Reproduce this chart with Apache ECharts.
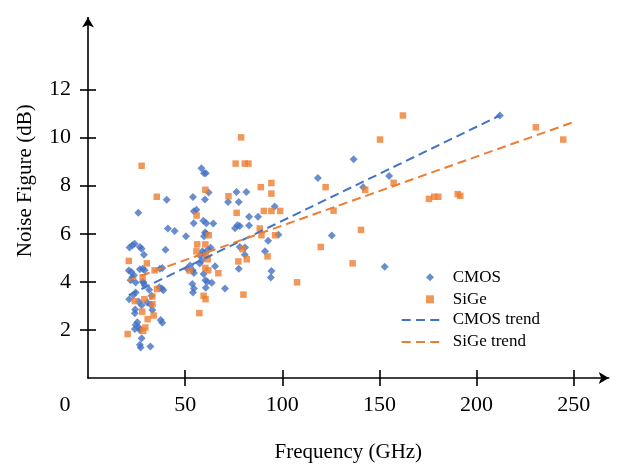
<!DOCTYPE html>
<html>
<head>
<meta charset="utf-8">
<script src="https://cdn.jsdelivr.net/npm/echarts@6/dist/echarts.min.js"></script>
<style>
html,body{margin:0;padding:0;background:#fff;}
#chart{width:622px;height:468px;}
</style>
</head>
<body>
<div id="chart"></div>
<script>
// Data: [frequency GHz, noise figure dB]
const cmosPoints = [
  [40.5,7.42],[54,7.53],[25.9,6.87],[54.5,6.94],[55.8,7.0],[54.4,6.44],[41.1,6.22],[44.6,6.12],
  [50.4,5.9],[39.9,5.34],[24,5.59],[22.8,5.52],[21.4,5.43],[26.7,5.45],[27.6,5.38],[28.8,5.13],
  [21,4.47],[22.3,4.41],[26.7,4.52],[28.2,4.55],[29.1,4.48],[37,4.54],[38.2,4.58],[23.6,4.27],
  [22.8,4.19],[28.6,3.96],[29.1,3.86],[31.5,3.67],[36.7,3.78],[38,3.72],[38.8,3.65],[24.5,3.56],
  [23.3,3.45],[32.7,3.42],[21.2,3.28],[30.5,3.14],[24.3,2.85],[24.1,2.69],[27.6,3.03],[33.1,2.83],
  [37.4,2.41],[38.2,2.3],[24.5,2.21],[25.4,2.32],[26.7,2.0],[24.1,2.04],[27.6,1.65],[26.7,1.38],
  [27.1,1.27],[32.1,1.31],[53.7,3.91],[54.5,3.72],[54,3.56],[21.9,4.07],[24.5,3.97],[28.2,4.0],
  [26.2,3.17],[32.2,3.06],[26.2,2.1],
  [58.4,8.73],[59.7,8.52],[60.6,8.52],[118.3,8.32],[60.2,7.43],[62.1,7.72],[76.4,7.74],[81.5,7.74],
  [72.1,7.32],[77.6,7.32],[96.1,7.14],[59.4,6.54],[60.9,6.44],[64.5,6.43],[82.9,6.71],[87.5,6.71],
  [76.9,6.35],[78.1,6.32],[75.7,6.23],[82.9,6.34],[60.2,6.05],[60.9,6.01],[59.7,5.9],[98,5.96],
  [92.7,5.71],[63.1,5.42],[61.8,5.35],[58.9,5.27],[57.6,5.1],[78.1,5.45],[80.8,5.43],[80.7,5.13],
  [91.1,5.27],[59.7,5.18],[58.5,4.89],[57.5,4.76],[52.5,4.68],[51.1,4.55],[53.9,4.48],[54.5,4.37],
  [65.4,4.65],[77.6,4.55],[94.4,4.45],[94.1,4.18],[59.5,4.33],[60.4,4.07],[61.4,4.0],[63.7,3.96],
  [60.6,3.75],[70.5,3.72],
  [212,10.92],[136.7,9.1],[155,8.4],[141.6,7.94],[125.5,5.93],[152.7,4.63]
];
const sigePoints = [
  [35.4,7.54],[21,4.87],[30.3,4.77],[34.3,4.48],[28.1,4.19],[35.5,3.7],[33.1,3.39],[29,3.28],
  [24.1,3.2],[33.2,3.07],[27.9,2.76],[33.8,2.6],[30.7,2.45],[29.5,2.1],[28.4,1.96],[20.4,1.83],
  [52.3,4.47],[56.2,5.56],[55.8,5.27],[57.3,2.7],[55.9,6.76],[27.6,8.83],
  [78.8,10.01],[76,8.92],[80.7,8.92],[82.6,8.92],[60.4,7.83],[88.9,7.94],[94.4,8.11],[94.4,7.67],
  [72.3,7.56],[76.5,6.87],[90.5,6.95],[94.4,6.95],[98.9,6.95],[88.4,6.22],[89.3,5.94],[96.3,5.94],
  [62.1,5.94],[60.4,5.56],[60.7,5.1],[79.6,5.36],[92.4,5.06],[61.6,4.94],[77.4,4.85],[81.7,4.94],
  [119.8,5.45],[60.4,4.58],[61.9,4.48],[67.1,4.36],[107.6,3.98],[80,3.47],[59.5,3.42],[60.5,3.28],
  [162.1,10.92],[150.3,9.92],[230.5,10.43],[244.6,9.92],[122.3,7.94],[142.7,7.83],[157.3,8.12],
  [126.4,6.96],[175.5,7.45],[178.2,7.54],[180.3,7.54],[190.3,7.65],[191.6,7.58],[140.5,6.16],
  [136.2,4.77]
];
const cmosTrend = [[21,3.45],[212,10.92]];
const sigeTrend = [[20.5,4.06],[249,10.62]];
const xTickValues = [50,100,150,200,250];
const xLabelValues = [0,50,100,150,200,250];
const yTickValues = [2,4,6,8,10,12];

const FONT = 'Liberation Serif';
const BLUE = '#4472C4';
const ORANGE = '#ED7D31';
const axisLineStyle = {color:'#000', width:1.6};
const dashIcon = 'path://M0,0h9v2h-9zM14.3,0h9v2h-9zM28.6,0h9v2h-9z';

const chart = echarts.init(document.getElementById('chart'), null, {renderer:'canvas'});
chart.setOption({
  animation:false,
  backgroundColor:'#fff',
  grid:{left:88, top:17.45, width:520.7, height:362.55, containLabel:false},
  xAxis:[
    {type:'value', min:0, max:268,
     axisLine:{show:true, onZero:false, symbol:['none','arrow'], symbolSize:[9,10], lineStyle:axisLineStyle},
     axisTick:{show:true, length:8, customValues:xTickValues, lineStyle:axisLineStyle},
     axisLabel:{customValues:xLabelValues, margin:16, fontFamily:FONT, fontSize:22, color:'#000',
       formatter:function(v){ return v===0 ? '{z|0}' : String(v); },
       rich:{z:{fontFamily:FONT, fontSize:22, color:'#000', padding:[0,46,0,0]}}},
     splitLine:{show:false},
     name:'Frequency (GHz)', nameLocation:'middle', nameGap:64,
     nameTextStyle:{fontFamily:FONT, fontSize:21, color:'#000'}},
    {type:'value', min:0, max:268, position:'bottom',
     axisLine:{show:false, onZero:false},
     axisTick:{show:true, inside:true, length:8, customValues:xTickValues, lineStyle:axisLineStyle},
     axisLabel:{show:false}, splitLine:{show:false}}
  ],
  yAxis:[
    {type:'value', min:0, max:15,
     axisLine:{show:true, onZero:false, symbol:['none','arrow'], symbolSize:[9,10], lineStyle:axisLineStyle},
     axisTick:{show:true, length:8, customValues:yTickValues, lineStyle:axisLineStyle},
     axisLabel:{customValues:yTickValues, margin:17, fontFamily:FONT, fontSize:22, color:'#000'},
     splitLine:{show:false},
     name:'Noise Figure (dB)', nameLocation:'middle', nameGap:52, nameRotate:90,
     nameTextStyle:{fontFamily:FONT, fontSize:21, color:'#000', padding:[0,0,0,34]}},
    {type:'value', min:0, max:15, position:'left',
     axisLine:{show:false, onZero:false},
     axisTick:{show:true, inside:true, length:8, customValues:yTickValues, lineStyle:axisLineStyle},
     axisLabel:{show:false}, splitLine:{show:false}}
  ],
  legend:[
    {data:[{name:'CMOS', icon:'diamond'},{name:'SiGe', icon:'rect'}], orient:'vertical', padding:0,
     left:426, top:266.3, itemWidth:8, itemHeight:8, itemGap:0,
     textStyle:{fontFamily:FONT, fontSize:17, color:'#000', lineHeight:22, padding:[0,0,0,13.7]}},
    {data:[{name:'CMOS trend', icon:dashIcon},{name:'SiGe trend', icon:dashIcon}], orient:'vertical', padding:0,
     left:401.7, top:309, itemWidth:37.6, itemHeight:2, itemGap:0,
     textStyle:{fontFamily:FONT, fontSize:17, color:'#000', lineHeight:22, padding:[0,0,0,8.4]}}
  ],
  series:[
    {name:'CMOS', type:'scatter', data:cmosPoints, symbol:'diamond', symbolSize:8,
     itemStyle:{color:BLUE}, z:2},
    {name:'SiGe', type:'scatter', data:sigePoints, symbol:'rect', symbolSize:6.5,
     itemStyle:{color:ORANGE}, z:3},
    {name:'CMOS trend', type:'line', data:cmosTrend, symbol:'none', showSymbol:false,
     lineStyle:{color:BLUE, width:2, type:[9,5]}, itemStyle:{color:BLUE}, z:4},
    {name:'SiGe trend', type:'line', data:sigeTrend, symbol:'none', showSymbol:false,
     lineStyle:{color:ORANGE, width:2, type:[9,5]}, itemStyle:{color:ORANGE}, z:4}
  ]
});
</script>
</body>
</html>
